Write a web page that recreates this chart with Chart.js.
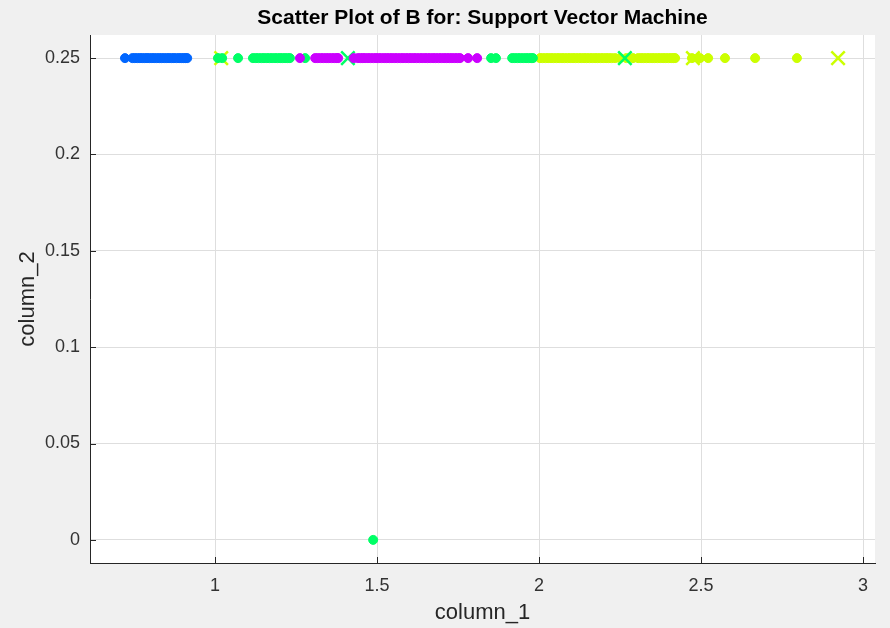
<!DOCTYPE html>
<html>
<head>
<meta charset="utf-8">
<script src="https://cdn.jsdelivr.net/npm/chart.js@4.4.1/dist/chart.umd.min.js"></script>
<style>
    html, body { margin: 0; padding: 0; background: #f0f0f0; }
    #wrap { width: 890px; height: 628px; }
</style>
</head>
<body>
<div id="wrap"><canvas id="canvas" width="890" height="628"></canvas></div>
<script>
// values (column_1 positions; column_2 is 0.25 unless noted)
const rowLevel = 0.25;
const blueDots = [0.722, 0.745, 0.752, 0.76, 0.768, 0.775, 0.783, 0.79, 0.797, 0.805, 0.812, 0.82, 0.828,
    0.835, 0.843, 0.851, 0.858, 0.866, 0.873, 0.881, 0.889, 0.896, 0.903, 0.909, 0.914];
const greenDots = [1.009, 1.022, 1.071, 1.117, 1.126, 1.134, 1.143, 1.151, 1.16, 1.168, 1.176, 1.185, 1.193,
    1.201, 1.208, 1.216, 1.224, 1.231, 1.278, 1.852, 1.867, 1.917, 1.925, 1.934, 1.942, 1.951, 1.96, 1.968,
    1.976, 1.981];
const greenOutlier = [[1.488, 0]];
const greenCrosses = [1.41, 2.265];
const purpleDots = [1.262, 1.309, 1.317, 1.326, 1.334, 1.343, 1.351, 1.36, 1.368, 1.376, 1.38, 1.428, 1.441,
    1.449, 1.456, 1.463, 1.472, 1.48, 1.489, 1.497, 1.505, 1.513, 1.522, 1.53, 1.538, 1.546, 1.555, 1.563,
    1.572, 1.58, 1.589, 1.597, 1.605, 1.614, 1.622, 1.631, 1.639, 1.648, 1.656, 1.664, 1.673, 1.681, 1.69,
    1.698, 1.707, 1.715, 1.723, 1.731, 1.74, 1.748, 1.756, 1.781, 1.809];
const yellowDots = [2.003, 2.011, 2.02, 2.028, 2.037, 2.045, 2.054, 2.062, 2.071, 2.079, 2.088, 2.096, 2.105,
    2.113, 2.122, 2.13, 2.139, 2.147, 2.156, 2.164, 2.173, 2.181, 2.19, 2.198, 2.207, 2.215, 2.224, 2.235,
    2.25, 2.27, 2.29, 2.306, 2.315, 2.323, 2.332, 2.34, 2.349, 2.357, 2.366, 2.374, 2.383, 2.391, 2.4, 2.408,
    2.415, 2.42, 2.472, 2.497, 2.522, 2.574, 2.667, 2.796];
const yellowCrosses = [1.019, 2.475, 2.923];

const classColors = {
    yellow: '#ccff00',
    green: '#00ff66',
    blue: '#0066ff',
    purple: '#cc00ff',
};
const xLimits = [0.614, 3.037];
const yLimits = [-0.012, 0.262];

const fontFamily = "'Liberation Sans', Arial, Helvetica, sans-serif";
const axisColor = '#262626';

function onRow(values) {
    return values.map((v) => ({ x: v, y: rowLevel }));
}

// 1, 1.5, 0.05 ... no trailing zeros, like matlab
function plainTick(value) {
    return String(Number(value.toFixed(4)));
}

function dotSet(label, points, color, order) {
    return {
        label: label,
        data: points,
        backgroundColor: color,
        borderColor: color,
        pointRadius: 4.5,
        pointBorderWidth: 1,
        pointHoverRadius: 4.5,
        order: order,
    };
}

function crossSet(label, points, color, order) {
    return {
        label: label,
        data: points,
        pointStyle: 'crossRot',
        borderColor: color,
        backgroundColor: color,
        pointRadius: 9.5,
        pointBorderWidth: 2.5,
        pointHoverRadius: 9.5,
        order: order,
    };
}

// white axes box on the grey figure
const figureBackground = {
    id: 'figureBackground',
    beforeDraw(chart) {
        const { ctx, chartArea } = chart;
        ctx.save();
        ctx.fillStyle = '#f0f0f0';
        ctx.fillRect(0, 0, chart.width, chart.height);
        ctx.fillStyle = '#ffffff';
        ctx.fillRect(chartArea.left, chartArea.top, chartArea.right - chartArea.left, chartArea.bottom - chartArea.top);
        ctx.restore();
    },
};

// matlab style ticks pointing into the axes
const innerTicks = {
    id: 'innerTicks',
    afterDraw(chart) {
        const { ctx, chartArea, scales } = chart;
        ctx.save();
        ctx.strokeStyle = axisColor;
        ctx.lineWidth = 1;
        ctx.beginPath();
        scales.x.ticks.forEach((t) => {
            const px = Math.round(scales.x.getPixelForValue(t.value)) + 0.5;
            ctx.moveTo(px, chartArea.bottom);
            ctx.lineTo(px, chartArea.bottom - 6);
        });
        scales.y.ticks.forEach((t) => {
            const py = Math.round(scales.y.getPixelForValue(t.value)) + 0.5;
            ctx.moveTo(chartArea.left, py);
            ctx.lineTo(chartArea.left + 6, py);
        });
        ctx.stroke();
        ctx.restore();
    },
};

const ctx = document.getElementById('canvas');
new Chart(ctx, {
    type: 'scatter',
    data: {
        datasets: [
            dotSet('class 2', onRow(yellowDots), classColors.yellow, 6),
            crossSet('class 2 x', onRow(yellowCrosses), classColors.yellow, 5),
            dotSet('class 3', onRow(greenDots).concat(greenOutlier.map((p) => ({ x: p[0], y: p[1] }))), classColors.green, 4),
            crossSet('class 3 x', onRow(greenCrosses), classColors.green, 3),
            dotSet('class 4', onRow(blueDots), classColors.blue, 2),
            dotSet('class 5', onRow(purpleDots), classColors.purple, 1),
        ],
    },
    options: {
        responsive: false,
        animation: false,
        events: [],
        layout: { padding: { left: 0, right: 15, top: 0, bottom: 0 } },
        plugins: {
            legend: { display: false },
            tooltip: { enabled: false },
            title: {
                display: true,
                text: 'Scatter Plot of B for: Support Vector Machine',
                fullSize: false,
                color: '#000000',
                font: { family: fontFamily, size: 21, weight: 'bold', lineHeight: 1.2 },
                padding: { top: 6, bottom: 3.8 },
            },
        },
        scales: {
            x: {
                type: 'linear',
                min: xLimits[0],
                max: xLimits[1],
                afterFit: (scale) => { scale.height = 65; },
                ticks: {
                    stepSize: 0.5,
                    includeBounds: false,
                    color: '#333333',
                    font: { family: fontFamily, size: 18 },
                    padding: 12,
                    maxRotation: 0,
                    callback: plainTick,
                },
                grid: { color: '#dedede', drawTicks: false, tickLength: 0 },
                border: { color: axisColor, width: 1 },
                title: {
                    display: true,
                    text: 'column_1',
                    color: '#262626',
                    font: { family: fontFamily, size: 22, lineHeight: 1.2 },
                    padding: { top: 0, bottom: 2 },
                },
            },
            y: {
                type: 'linear',
                min: yLimits[0],
                max: yLimits[1],
                afterFit: (scale) => { scale.width = 90; },
                ticks: {
                    stepSize: 0.05,
                    includeBounds: false,
                    color: '#333333',
                    font: { family: fontFamily, size: 18 },
                    padding: 10,
                    callback: plainTick,
                },
                grid: { color: '#dedede', drawTicks: false, tickLength: 0 },
                border: { color: axisColor, width: 1 },
                title: {
                    display: true,
                    text: 'column_2',
                    color: '#262626',
                    font: { family: fontFamily, size: 22, lineHeight: 1.2 },
                    padding: { top: 15, bottom: 0 },
                },
            },
        },
    },
    plugins: [figureBackground, innerTicks],
});
</script>
</body>
</html>
